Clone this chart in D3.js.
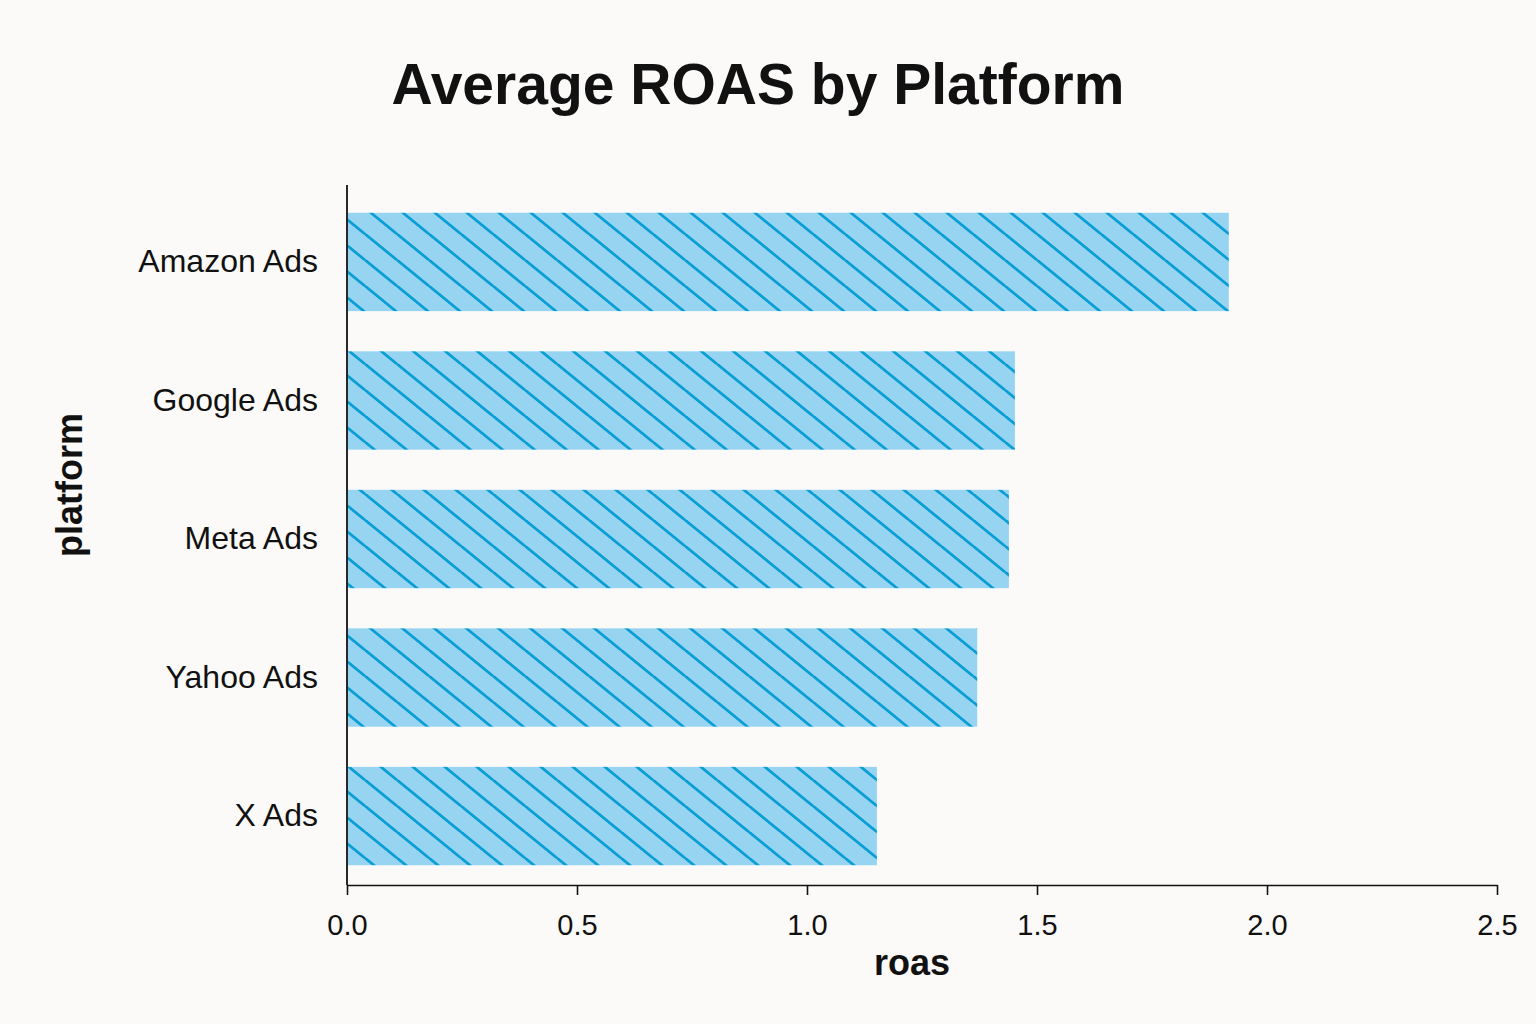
<!DOCTYPE html>
<html><head><meta charset="utf-8">
<script src="https://cdn.jsdelivr.net/npm/d3@7"></script>
<style>
html,body{margin:0;padding:0;background:#fbfaf8;}
svg{display:block;font-family:"Liberation Sans",Arial,sans-serif;}
</style></head>
<body>
<svg id="chart" width="1536" height="1024"></svg>
<script>
const categories = ["Amazon Ads","Google Ads","Meta Ads","Yahoo Ads","X Ads"];
const roasValues = [1.917, 1.452, 1.439, 1.370, 1.152];
const xTicks = [0, 0.5, 1.0, 1.5, 2.0, 2.5];
const titleText = "Average ROAS by Platform";
const xLabel = "roas";
const yLabel = "platform";

const svg = d3.select("#chart");
svg.append("rect").attr("width",1536).attr("height",1024).attr("fill","#fbfaf8");

const x = d3.scaleLinear().domain([0,2.5]).range([347,1497]);
const y = d3.scaleBand().domain(categories).range([192,886]).paddingInner(0.29).paddingOuter(0.15);

const defs = svg.append("defs");
const pat = defs.append("pattern").attr("id","hatch")
  .attr("patternUnits","userSpaceOnUse").attr("width",32).attr("height",26).attr("x",13).attr("y",0);
pat.append("rect").attr("width",32).attr("height",26).attr("fill","#97d4f1");
[[-32,-26,32,26],[0,0,32,26],[-32,0,32,52],[0,-26,64,26]].forEach(([x1,y1,x2,y2])=>{
  pat.append("line").attr("x1",x1).attr("y1",y1).attr("x2",x2).attr("y2",y2)
    .attr("stroke","#0a9fd4").attr("stroke-width",2.5);
});

svg.append("g").selectAll("rect").data(categories).join("rect")
  .attr("x", x(0)+1)
  .attr("y", d=>y(d))
  .attr("width", (d,i)=>x(roasValues[i])-x(0)-1)
  .attr("height", y.bandwidth())
  .attr("fill","url(#hatch)");

// x axis
const xAxis = svg.append("g").attr("transform","translate(0,885)")
  .call(d3.axisBottom(x).tickValues(xTicks).tickFormat(d3.format(".1f")).tickSize(10).tickSizeOuter(0).tickPadding(19));
xAxis.select(".domain").attr("stroke","#111").attr("stroke-width",1.6);
xAxis.selectAll(".tick line").attr("stroke","#111").attr("stroke-width",1.6);
xAxis.selectAll(".tick text").attr("font-size",29).attr("fill","#111").attr("font-family","Liberation Sans, Arial, sans-serif");

// y axis
const yAxis = svg.append("g").attr("transform","translate(347,0)")
  .call(d3.axisLeft(y).tickSize(0).tickPadding(29));
yAxis.select(".domain").attr("stroke","#111").attr("stroke-width",1.8).attr("d","M0,185V885");
yAxis.selectAll(".tick text").attr("font-size",32).attr("fill","#111").attr("font-family","Liberation Sans, Arial, sans-serif");

svg.append("text").attr("x",758).attr("y",104).attr("text-anchor","middle")
  .attr("font-size",57).attr("font-weight","bold").attr("fill","#111").text(titleText);
svg.append("text").attr("x",912).attr("y",975).attr("text-anchor","middle")
  .attr("font-size",36).attr("font-weight","bold").attr("fill","#111").text(xLabel);
svg.append("text").attr("transform","translate(82,485) rotate(-90)").attr("text-anchor","middle")
  .attr("font-size",36).attr("font-weight","bold").attr("fill","#111").text(yLabel);
</script>
</body></html>
